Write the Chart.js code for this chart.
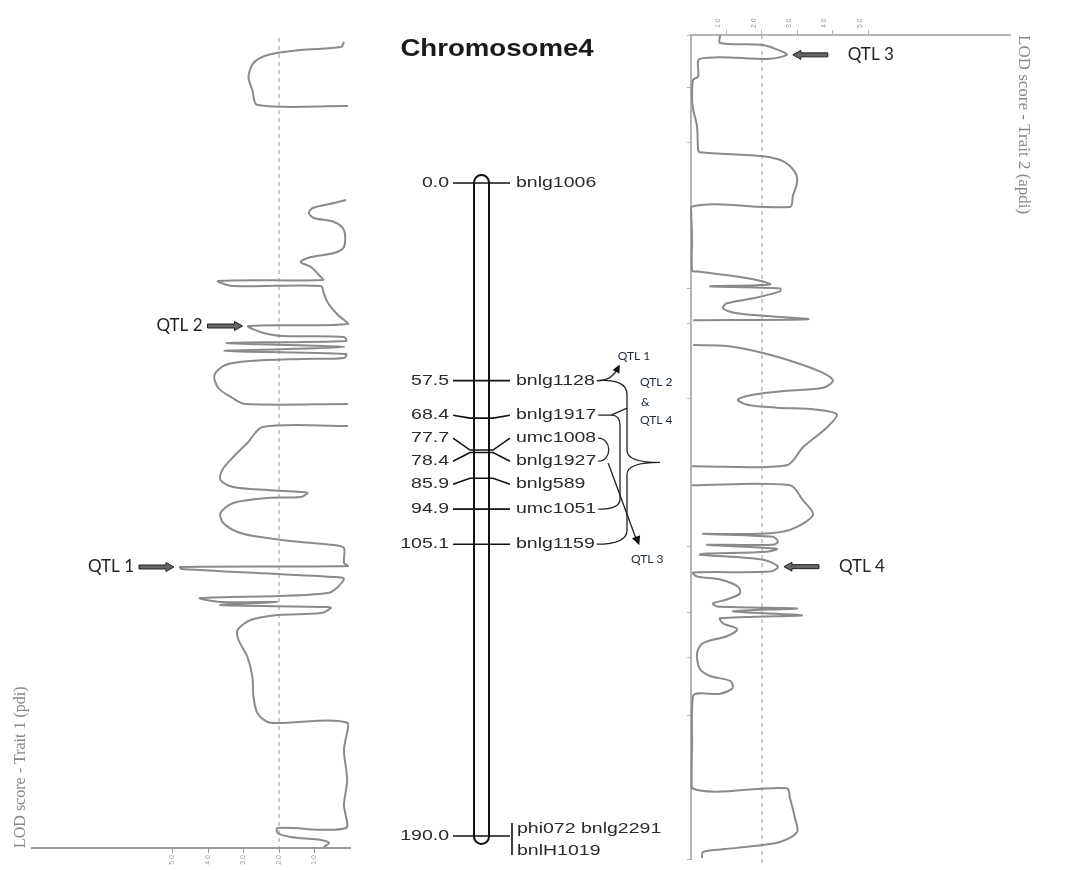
<!DOCTYPE html>
<html lang="en">
  <head>
    <meta charset="UTF-8" />
    <title>Chromosome 4 QTL</title>
    <style>
      body { margin: 0; background: #fff; }
      #stage { position: relative; width: 1074px; height: 870px; overflow: hidden; }
      #stage canvas { position: absolute; top: 0; }
    </style>
  </head>
  <body>
    <div id="stage">
      <canvas id="trait1Chart" width="360" height="870" style="left: 0"></canvas>
      <canvas id="mapChart" width="320" height="870" style="left: 360px"></canvas>
      <canvas id="trait2Chart" width="434" height="870" style="left: 640px"></canvas>
    </div>

    <script src="https://cdn.jsdelivr.net/npm/chart.js"></script>
    <script>
      // linkage map of chromosome 4 (cM)
      const markerPos = [0.0, 57.5, 68.4, 77.7, 78.4, 85.9, 94.9, 105.1, 190.0];
      const markerNames = ["bnlg1006", "bnlg1128", "bnlg1917", "umc1008", "bnlg1927",
        "bnlg589", "umc1051", "bnlg1159", ["phi072 bnlg2291", "bnlH1019"]];

      // LOD ticks on both profile axes
      const lodTicks = [1, 2, 3, 4, 5];
      const lodThreshold = 2.0;

      // trait 1 (left profile): position along the scan, LOD; null = break in the trace
      const trait1Pos = [1.4, 2.4, 3.0, 4.0, 5.6, 8.4, 11.0, 14.0, 14.2, null,
        33.0, 33.6, 34.6, 35.6, 36.6, 37.4, 39.0, 42.4, 43.6, 44.4,
        45.4, 46.4, 48.4, 49.0, 49.2, 50.2, 50.2, 51.6, 53.6, 56.0,
        57.8, 58.2, 59.6, 60.2, 60.4, 61.2, 61.6, 62.4, 63.2, 63.8,
        64.6, 64.8, 65.2, 66.0, 68.0, 70.6, 72.6, 73.8, 73.8, null,
        78.2, 78.4, 81.6, 84.4, 87.0, 89.0, 90.4, 91.0, 91.4, 91.6,
        92.4, 92.6, 93.6, 95.6, 97.6, 99.6, 100.6, 101.4, 102.0, 102.6,
        105.6, 106.2, 106.4, 106.8, 108.4, 108.8, 111.6, 112.6, 113.4, 113.4,
        114.0, 114.4, 114.6, 115.6, 116.0, 117.0, 119.0, 121.0, 124.4, 128.4,
        132.4, 135.6, 137.4, 137.6, 137.6, 143.0, 149.0, 154.0, 158.6, 158.6,
        159.6, 160.4, 161.0, 161.6, 162.4];
      const trait1Lod = [0.17, 0.25, 1.39, 2.32, 2.72, 2.86, 2.75, 2.61, 0.06, null,
        0.11, 0.45, 1.05, 1.16, 1.02, 0.45, 0.17, 0.17, 0.45, 1.10,
        1.39, 1.10, 0.82, 0.76, 3.71, 3.31, 0.82, 0.74, 0.62, 0.34,
        0.06, 2.86, 2.44, 1.87, 0.17, 0.11, 3.48, 0.17, 3.54, 0.11,
        0.17, 1.39, 2.80, 3.51, 3.82, 3.71, 3.31, 2.95, 0.06, null,
        0.06, 2.46, 2.89, 3.29, 3.60, 3.65, 3.29, 2.32, 1.39, 1.19,
        1.39, 2.32, 3.29, 3.65, 3.57, 3.09, 2.32, 1.39, 0.45, 0.17,
        0.17, 0.06, 4.79, 4.73, 0.45, 0.17, 0.62, 4.22, 3.65, 2.04,
        3.65, 0.62, 0.54, 0.82, 2.04, 2.80, 3.17, 3.14, 2.89, 2.75,
        2.72, 2.61, 2.32, 2.04, 0.06, 0.17, 0.08, 0.17, 0.11, 2.04,
        2.04, 1.67, 0.82, 0.59, 0.74];

      // trait 2 (right profile)
      const trait2Pos = [0.0, 1.6, 2.0, 3.4, 4.0, 4.8, 4.8, 8.4, 9.0, 13.0,
        15.0, 18.4, 23.0, 23.6, 24.4, 25.4, 27.6, 29.6, 32.4, 34.6,
        34.6, 41.0, 47.4, 47.6, 48.6, 49.6, 50.2, 50.6, 51.0, 51.6,
        53.0, 54.0, 55.0, 56.0, 56.6, 57.2, 57.4, null,
        62.4, 62.6, 64.0, 66.0, 68.0, 69.6, 71.0, 71.6, 72.4, 73.4,
        74.4, 75.0, 75.4, 76.4, 79.0, 83.0, 86.6, 86.8, null,
        90.6, 90.6, 93.6, 96.6, 99.6, 100.4, 100.4, 101.0, 102.0, 102.6,
        102.6, 103.4, 104.0, 104.4, 104.6, 105.6, 107.0, 108.0, 108.2, 109.0,
        109.6, 111.0, 112.4, 113.6, 114.4, 115.0, 115.4, 116.0, 116.8, 117.4,
        118.4, 119.6, 121.0, 122.4, 124.4, 127.6, 129.0, 130.0, 131.4, 132.6,
        133.0, 143.0, 151.6, 151.6, 153.6, 157.6, 160.4, 162.4, 163.6, 164.4,
        165.6];
      const trait2Lod = [0.82, 0.82, 2.03, 2.59, 2.70, 2.23, 0.25, 0.20, 0.06, 0.03,
        0.06, 0.17, 0.20, 0.25, 2.03, 2.59, 2.93, 2.99, 2.87, 2.79,
        0.0, 0.03, 0.03, 0.17, 1.30, 2.03, 2.23, 0.54, 2.51, 2.51,
        1.75, 1.01, 0.90, 1.30, 2.23, 3.30, 0.06, null,
        0.06, 1.01, 2.03, 2.99, 3.72, 4.00, 3.72, 2.70, 1.75, 1.32,
        1.58, 2.42, 3.55, 4.11, 3.83, 3.15, 2.70, 0.03, null,
        0.03, 2.79, 3.15, 3.44, 2.79, 1.94, 0.34, 2.31, 2.45, 2.31,
        0.45, 2.42, 2.14, 0.34, 0.25, 2.03, 2.45, 2.23, 0.06, 0.17,
        0.82, 1.32, 1.38, 1.01, 0.62, 0.73, 2.99, 1.18, 3.13, 0.82,
        0.90, 1.30, 1.01, 0.34, 0.17, 0.25, 0.54, 1.10, 1.18, 0.82,
        0.06, 0.03, 0.03, 2.70, 2.79, 2.93, 2.99, 2.51, 1.30, 0.34,
        0.31];
      const trait2PosTicks = [0, 10.6, 21.6, 51.0, 58.0, 73.2, 103.0, 116.2, 125.2, 137.0, 166.0];

      // QTL peaks pointed at with arrows
      const trait1QtlNames = ["QTL 2", "QTL 1"];
      const trait1QtlPos = [58.2, 106.4];
      const trait1QtlLod = [2.86, 4.79];
      const trait2QtlNames = ["QTL 3", "QTL 4"];
      const trait2QtlPos = [4.0, 107.0];
      const trait2QtlLod = [2.70, 2.45];

      Chart.defaults.font.family = "'Liberation Sans', Arial, sans-serif";
      Chart.defaults.animation = false;

      const toPoints = (pos, lod) =>
        pos.map((p, i) => (p === null ? { x: null, y: null } : { x: lod[i], y: p }));

      function blockArrow(ctx, tailX, tipX, y) {
        const dir = Math.sign(tipX - tailX);
        const headLen = 8;
        ctx.beginPath();
        ctx.moveTo(tailX, y - 2);
        ctx.lineTo(tipX - dir * headLen, y - 2);
        ctx.lineTo(tipX - dir * headLen, y - 4.5);
        ctx.lineTo(tipX, y);
        ctx.lineTo(tipX - dir * headLen, y + 4.5);
        ctx.lineTo(tipX - dir * headLen, y + 2);
        ctx.lineTo(tailX, y + 2);
        ctx.closePath();
        ctx.fillStyle = "#666";
        ctx.fill();
        ctx.strokeStyle = "#222";
        ctx.lineWidth = 1;
        ctx.stroke();
      }

      function qtlArrows(names, pos, lod, side) {
        return {
          id: "qtlArrows",
          afterDraw(chart) {
            const { ctx, scales } = chart;
            ctx.save();
            ctx.font = "17px Lato";
            ctx.textBaseline = "middle";
            names.forEach((name, i) => {
              const peakX = scales.x.getPixelForValue(lod[i]);
              const y = scales.y.getPixelForValue(pos[i]);
              const tip = peakX + side * 6;
              const tail = tip + side * 35;
              blockArrow(ctx, tail, tip, y);
              ctx.fillStyle = "#222";
              ctx.textAlign = side < 0 ? "right" : "left";
              ctx.fillText(name, tail + side * (side < 0 ? 5 : 20), y);
            });
            ctx.restore();
          },
        };
      }

      const profileLine = {
        showLine: true,
        pointRadius: 0,
        borderColor: "#8a8a8a",
        borderWidth: 2,
        tension: 0.3,
        spanGaps: false,
        clip: false,
      };
      const lodTickOpts = {
        font: { size: 7 },
        color: "#999",
        minRotation: 90,
        maxRotation: 90,
        padding: 2,
        callback: (v) => v.toFixed(1),
      };

      //! Trait 1 profile (left, LOD grows to the left)
      new Chart(document.getElementById("trait1Chart"), {
        type: "scatter",
        data: {
          datasets: [
            { ...profileLine, data: toPoints(trait1Pos, trait1Lod) },
            {
              showLine: true, pointRadius: 0, borderColor: "#999", borderWidth: 1,
              borderDash: [4, 4], clip: false,
              data: [{ x: lodThreshold, y: 0.6 }, { x: lodThreshold, y: 162.6 }],
            },
          ],
        },
        options: {
          responsive: false,
          layout: { padding: { top: 35, right: 10, left: 0, bottom: 0 } },
          plugins: { legend: { display: false }, tooltip: { enabled: false } },
          scales: {
            x: {
              type: "linear", position: "bottom", reverse: true, min: 0, max: 8.96,
              afterBuildTicks: (s) => { s.ticks = lodTicks.map((v) => ({ value: v })); },
              afterFit: (s) => { s.height = 22; },
              border: { color: "#9a9a9a", width: 2 },
              grid: { drawOnChartArea: false, color: "#9a9a9a", tickLength: 5 },
              ticks: lodTickOpts,
            },
            y: { type: "linear", reverse: true, min: 0, max: 162.6, display: false },
            yTitle: {
              type: "linear", position: "left", min: 0, max: 1,
              afterFit: (s) => { s.width = 32; },
              border: { display: false },
              grid: { display: false },
              ticks: { display: false },
              title: {
                display: true, text: "LOD score - Trait 1 (pdi)", align: "start",
                font: { family: "'Liberation Serif'", size: 16 }, color: "#888",
                padding: { top: 11, bottom: 0 },
              },
            },
          },
        },
        plugins: [qtlArrows(trait1QtlNames, trait1QtlPos, trait1QtlLod, -1)],
      });

      //! Trait 2 profile (right)
      new Chart(document.getElementById("trait2Chart"), {
        type: "scatter",
        data: {
          datasets: [
            { ...profileLine, data: toPoints(trait2Pos, trait2Lod) },
            {
              showLine: true, pointRadius: 0, borderColor: "#999", borderWidth: 1,
              borderDash: [4, 4], clip: false,
              data: [{ x: lodThreshold, y: 0 }, { x: lodThreshold, y: 167 }],
            },
          ],
        },
        options: {
          responsive: false,
          layout: { padding: { top: 0, right: 40, left: 0, bottom: 5 } },
          plugins: { legend: { display: false }, tooltip: { enabled: false } },
          scales: {
            x: {
              type: "linear", position: "top", min: 0, max: 8.99,
              afterBuildTicks: (s) => { s.ticks = lodTicks.map((v) => ({ value: v })); },
              afterFit: (s) => { s.height = 35; },
              border: { color: "#b3b3b3", width: 2 },
              grid: { drawOnChartArea: false, color: "#b3b3b3", tickLength: 5 },
              ticks: lodTickOpts,
            },
            y: {
              type: "linear", position: "left", reverse: true, min: 0, max: 166,
              afterBuildTicks: (s) => { s.ticks = trait2PosTicks.map((v) => ({ value: v })); },
              afterFit: (s) => { s.width = 51; },
              border: { color: "#b3b3b3", width: 2 },
              grid: { drawOnChartArea: false, color: "#b3b3b3", tickLength: 4 },
              ticks: { callback: () => "" },
            },
            yTitle: {
              type: "linear", position: "right", min: 0, max: 1,
              afterFit: (s) => { s.width = 24; },
              border: { display: false },
              grid: { display: false },
              ticks: { display: false },
              title: {
                display: true, text: "LOD score - Trait 2 (apdi)", align: "end",
                font: { family: "'Liberation Serif'", size: 17 }, color: "#888",
                padding: { top: 0, bottom: 0 },
              },
            },
          },
        },
        plugins: [qtlArrows(trait2QtlNames, trait2QtlPos, trait2QtlLod, 1)],
      });

      //! Linkage map (center)
      function wideText(ctx, text, x, y, align, sx) {
        ctx.save();
        ctx.translate(x, y);
        ctx.scale(sx, 1);
        ctx.textAlign = align;
        ctx.fillText(text, 0, 0);
        ctx.restore();
      }

      // push overlapping labels apart, keeping each group centred on its markers
      function spreadLabels(ys, gap) {
        let groups = ys.map((y, i) => ({ idx: [i], center: y }));
        let merged = true;
        while (merged) {
          merged = false;
          for (let g = 0; g < groups.length - 1; g++) {
            const a = groups[g], b = groups[g + 1];
            const aEnd = a.center + ((a.idx.length - 1) * gap) / 2;
            const bStart = b.center - ((b.idx.length - 1) * gap) / 2;
            if (bStart - aEnd < gap) {
              const idx = a.idx.concat(b.idx);
              const center = idx.reduce((s, i) => s + ys[i], 0) / idx.length;
              groups.splice(g, 2, { idx, center });
              merged = true;
              break;
            }
          }
        }
        const out = [];
        groups.forEach((g) =>
          g.idx.forEach((i, k) => { out[i] = g.center + (k - (g.idx.length - 1) / 2) * gap; })
        );
        return out;
      }

      function arrowHead(ctx, fx, fy, tx, ty, size) {
        const a = Math.atan2(ty - fy, tx - fx);
        ctx.beginPath();
        ctx.moveTo(tx, ty);
        ctx.lineTo(tx - size * Math.cos(a - 0.45), ty - size * Math.sin(a - 0.45));
        ctx.lineTo(tx - size * Math.cos(a + 0.45), ty - size * Math.sin(a + 0.45));
        ctx.closePath();
        ctx.fill();
      }

      const linkageMap = {
        id: "linkageMap",
        afterDraw(chart) {
          const { ctx } = chart;
          const y = chart.scales.y;
          const sx = 1.3;
          const barL = 114, barR = 129;
          const posY = markerPos.map((p) => y.getPixelForValue(p));
          const labY = spreadLabels(posY, 23);

          ctx.save();
          // title
          ctx.fillStyle = "#1a1a1a";
          ctx.font = "bold 23px 'Liberation Sans'";
          ctx.textBaseline = "middle";
          wideText(ctx, "Chromosome4", 137, 50, "center", 1.2);

          // chromosome body
          ctx.strokeStyle = "#111";
          ctx.lineWidth = 2;
          ctx.beginPath();
          ctx.roundRect(barL, posY[0] - 8, barR - barL, posY[posY.length - 1] - posY[0] + 16, 7.5);
          ctx.stroke();

          // marker ticks with connectors to their labels
          ctx.lineWidth = 1.6;
          markerPos.forEach((p, i) => {
            ctx.beginPath();
            ctx.moveTo(93, labY[i]);
            ctx.lineTo(110, posY[i]);
            ctx.lineTo(133, posY[i]);
            ctx.lineTo(150, labY[i]);
            ctx.stroke();
          });

          ctx.font = "15px 'Liberation Sans'";
          ctx.fillStyle = "#2a2a2a";
          const ends = [];
          markerPos.forEach((p, i) => {
            wideText(ctx, p.toFixed(1), 89, labY[i], "right", sx);
            const name = markerNames[i];
            if (Array.isArray(name)) {
              ctx.beginPath();
              ctx.moveTo(152, labY[i] - 13);
              ctx.lineTo(152, labY[i] + 19);
              ctx.stroke();
              name.forEach((n, k) => wideText(ctx, n, 157, labY[i] - 7 + k * 22, "left", sx));
              ends.push(157);
            } else {
              wideText(ctx, name, 156, labY[i], "left", sx);
              ends.push(156 + ctx.measureText(name).width * sx + 2);
            }
          });

          // brackets and arrows linking markers to QTL
          ctx.strokeStyle = "#222";
          ctx.fillStyle = "#111";
          ctx.lineWidth = 1.3;
          const i1128 = 1, i1917 = 2, i1008 = 3, i1927 = 4, i1051 = 6, i1159 = 7;
          const yA = labY[i1128], yB = labY[i1159], mid = (yA + yB) / 2;
          const stem = 267, tip = 300;

          // QTL 1 arrow
          ctx.beginPath();
          ctx.moveTo(ends[i1128], yA);
          ctx.quadraticCurveTo(ends[i1128] + 14, yA + 1, ends[i1128] + 21, yA - 12);
          ctx.stroke();
          arrowHead(ctx, ends[i1128] + 14, yA + 1, ends[i1128] + 23, yA - 16, 9);

          // big brace for QTL 2 & QTL 4
          ctx.beginPath();
          ctx.moveTo(ends[i1128], yA);
          ctx.quadraticCurveTo(stem, yA - 2, stem, yA + 14);
          ctx.lineTo(stem, mid - 12);
          ctx.quadraticCurveTo(stem, mid, tip, mid);
          ctx.quadraticCurveTo(stem, mid, stem, mid + 12);
          ctx.lineTo(stem, yB - 14);
          ctx.quadraticCurveTo(stem, yB, ends[i1159], yB);
          ctx.stroke();

          // bnlg1917 joins the brace and opens a bracket down to umc1051
          const y17 = labY[i1917], y51 = labY[i1051];
          ctx.beginPath();
          ctx.moveTo(ends[i1917], y17);
          ctx.lineTo(ends[i1917] + 13, y17);
          ctx.lineTo(stem, y17 - 7);
          ctx.moveTo(ends[i1917] + 13, y17);
          ctx.quadraticCurveTo(260, y17, 260, y17 + 10);
          ctx.lineTo(260, y51 - 10);
          ctx.quadraticCurveTo(260, y51, ends[i1051], y51);
          ctx.stroke();

          // small bracket umc1008 / bnlg1927
          ctx.beginPath();
          ctx.moveTo(ends[i1008], labY[i1008]);
          ctx.bezierCurveTo(ends[i1008] + 14, labY[i1008], ends[i1927] + 14, labY[i1927], ends[i1927], labY[i1927]);
          ctx.stroke();

          // QTL 3 arrow
          const ax = ends[i1927] + 10, ay = labY[i1927] + 2;
          ctx.beginPath();
          ctx.moveTo(ax, ay);
          ctx.lineTo(ax + 28, ay + 76);
          ctx.stroke();
          arrowHead(ctx, ax, ay, ax + 31, ay + 82, 10);

          ctx.font = "12px Lato";
          ctx.fillStyle = "#1c2b3a";
          ctx.textAlign = "left";
          ctx.fillText("QTL 1", ends[i1128] + 21, yA - 24);
          ctx.fillText("QTL 2", 280, yA + 2);
          ctx.fillText("&", 281, yA + 22);
          ctx.fillText("QTL 4", 280, y17 + 5);
          ctx.fillText("QTL 3", 271, yB + 15);
          ctx.restore();
        },
      };

      new Chart(document.getElementById("mapChart"), {
        type: "scatter",
        data: { datasets: [] },
        options: {
          responsive: false,
          layout: { padding: { top: 183, bottom: 34, left: 0, right: 0 } },
          plugins: { legend: { display: false }, tooltip: { enabled: false } },
          scales: {
            x: { display: false, min: 0, max: 1 },
            y: { display: false, reverse: true, min: 0, max: 190 },
          },
        },
        plugins: [linkageMap],
      });
    </script>
  </body>
</html>
